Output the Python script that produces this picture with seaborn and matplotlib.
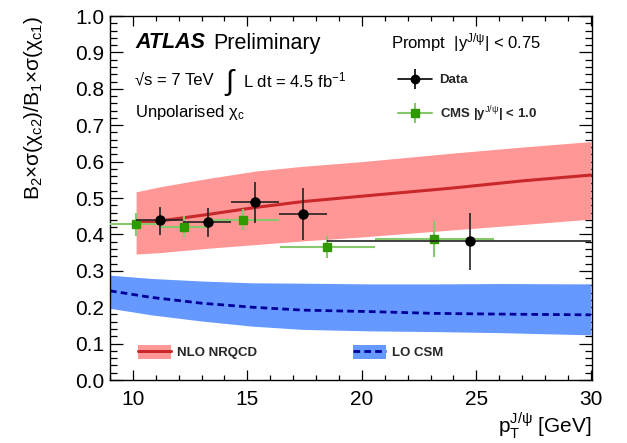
import matplotlib
matplotlib.use("Agg")
import matplotlib.pyplot as plt
import seaborn as sns
import numpy as np
import pandas as pd
from matplotlib.patches import Patch
from matplotlib.lines import Line2D
from matplotlib.ticker import MultipleLocator, FormatStrFormatter

# ---------------- data ----------------
atlas_pt = [11.17, 13.28, 15.35, 17.43, 24.74]
atlas_lo = [10.14, 12.20, 14.29, 16.38, 18.49]
atlas_hi = [12.20, 14.29, 16.38, 18.49, 30.00]
atlas_ratio = [0.439, 0.434, 0.488, 0.456, 0.381]
atlas_err_up = [0.037, 0.039, 0.057, 0.071, 0.077]
atlas_err_dn = [0.041, 0.040, 0.056, 0.071, 0.079]

cms_pt = [10.12, 12.22, 14.83, 18.49, 23.17]
cms_lo = [9.00, 11.15, 13.23, 16.43, 20.56]
cms_hi = [11.15, 13.23, 16.38, 20.56, 25.78]
cms_ratio = [0.428, 0.421, 0.440, 0.365, 0.387]
cms_err_up = [0.032, 0.030, 0.029, 0.031, 0.050]
cms_err_dn = [0.032, 0.029, 0.028, 0.031, 0.048]

nrqcd_pt = [10.14, 11.2, 13.3, 15.35, 17.4, 20.0, 23.9, 27.0, 30.0]
nrqcd_c = [0.432, 0.437, 0.455, 0.474, 0.490, 0.505, 0.527, 0.547, 0.563]
nrqcd_up = [0.517, 0.531, 0.554, 0.574, 0.587, 0.600, 0.623, 0.640, 0.655]
nrqcd_lo = [0.346, 0.350, 0.362, 0.372, 0.382, 0.393, 0.412, 0.427, 0.442]

csm_pt = [9.0, 10.8, 13.0, 15.2, 17.4, 20.3, 23.2, 26.1, 30.0]
csm_c = [0.245, 0.227, 0.211, 0.200, 0.192, 0.188, 0.183, 0.181, 0.179]
csm_up = [0.288, 0.279, 0.272, 0.267, 0.266, 0.264, 0.264, 0.265, 0.264]
csm_lo = [0.197, 0.179, 0.162, 0.148, 0.139, 0.135, 0.133, 0.130, 0.124]

x_ticks = [10, 15, 20, 25, 30]
y_ticks = [0.0, 0.1, 0.2, 0.3, 0.4, 0.5, 0.6, 0.7, 0.8, 0.9, 1.0]

# ---------------- style ----------------
sns.set_theme(style="ticks")
plt.rcParams["font.family"] = ["Liberation Sans", "DejaVu Sans"]
plt.rcParams["mathtext.fontset"] = "custom"
plt.rcParams["mathtext.rm"] = "Liberation Sans"
plt.rcParams["mathtext.it"] = "Liberation Sans:italic"
plt.rcParams["mathtext.bf"] = "Liberation Sans:bold"

W, H = 627, 443
fig = plt.figure(figsize=(W / 100, H / 100), dpi=100)
ax = fig.add_axes([110 / W, 1 - 380 / H, 482 / W, 364 / H])

RED_BAND = "#ff9797"
RED_LINE = "#c8282a"
BLUE_BAND = "#6699ff"
BLUE_LINE = "#000099"
GREEN_M = "#2f9900"
GREEN_E = "#88c86c"

# bands
ax.fill_between(nrqcd_pt, nrqcd_lo, nrqcd_up, color=RED_BAND, lw=0, zorder=1)
ax.fill_between(csm_pt, csm_lo, csm_up, color=BLUE_BAND, lw=0, zorder=1)
sns.lineplot(x=nrqcd_pt, y=nrqcd_c, color=RED_LINE, lw=2.2, ax=ax, zorder=2)
sns.lineplot(x=csm_pt, y=csm_c, color=BLUE_LINE, lw=2.0, ax=ax, zorder=2,
             linestyle=(0, (2.4, 1.5)))

# data
a_pt = np.array(atlas_pt)
c_pt = np.array(cms_pt)
ax.errorbar(cms_pt, cms_ratio,
            xerr=[c_pt - np.array(cms_lo), np.array(cms_hi) - c_pt],
            yerr=[cms_err_dn, cms_err_up], fmt="s", ms=6,
            mfc=GREEN_M, mec=GREEN_M, ecolor=GREEN_E, elinewidth=1.5,
            capsize=0, zorder=4)
ax.errorbar(atlas_pt, atlas_ratio,
            xerr=[a_pt - np.array(atlas_lo), np.array(atlas_hi) - a_pt],
            yerr=[atlas_err_dn, atlas_err_up], fmt="o", ms=6.5,
            color="black", ecolor="#222222", elinewidth=1.2,
            capsize=0, zorder=5)

# axes
ax.set_xlim(9, 30.05)
ax.set_ylim(0, 1)
ax.set_xticks(x_ticks)
ax.set_yticks(y_ticks)
ax.xaxis.set_minor_locator(MultipleLocator(1))
ax.yaxis.set_minor_locator(MultipleLocator(0.02))
ax.yaxis.set_major_formatter(FormatStrFormatter("%.1f"))
for s in ax.spines.values():
    s.set_linewidth(1.0)
    s.set_color("black")
ax.tick_params(which="both", direction="in", top=True, right=True,
               labelsize=15, colors="black", width=0.9)
ax.tick_params(axis="y", which="major", length=9.6, pad=4)
ax.tick_params(axis="y", which="minor", length=4.8)
ax.tick_params(axis="x", which="major", length=7.2, pad=7)
ax.tick_params(axis="x", which="minor", length=3.6)

ax.set_ylabel(r"B$_2$×σ(χ$_{\mathrm{c2}}$)/B$_1$×σ(χ$_{\mathrm{c1}}$)",
              fontsize=15, loc="top", labelpad=22, color="black")
ax.set_xlabel(r"p$_{\mathrm{T}}^{\mathrm{J/ψ}}$ [GeV]", fontsize=15,
              loc="right", labelpad=1, color="black")


def ftext(x, y, s, **kw):
    fig.text(x / W, 1 - y / H, s, va="center", ha="left", color="black", **kw)


ftext(135, 43, "ATLAS", fontsize=15.5, fontweight="bold", fontstyle="italic")
ftext(213, 43, "Preliminary", fontsize=15.5)
ftext(135, 80, "√s = 7 TeV", fontsize=12)
ftext(225, 82, "∫", fontsize=21)
ftext(243, 80, r"L dt = 4.5 fb$^{-1}$", fontsize=12)
ftext(135, 112, r"Unpolarised χ$_{\mathrm{c}}$", fontsize=12)
ftext(391, 43, r"Prompt  |y$^{\mathrm{J/ψ}}$| < 0.75", fontsize=12)

# legend handles (ROOT style: horizontal + vertical bar + marker)
h_data = (Line2D([], [], color="black", lw=1.2),
          Line2D([], [], color="black", marker="|", ms=14, mew=1.2, ls="none"),
          Line2D([], [], color="black", marker="o", ms=6, ls="none"))
h_cms = (Line2D([], [], color=GREEN_E, lw=1.5),
         Line2D([], [], color=GREEN_E, marker="|", ms=14, mew=1.5, ls="none"),
         Line2D([], [], color=GREEN_M, marker="s", ms=6, ls="none"))
leg1 = ax.legend([h_data, h_cms],
                 ["Data", r"CMS |y$^{\mathrm{J/ψ}}$| < 1.0"],
                 loc="upper left", bbox_to_anchor=(398 / W, 1 - 74 / H),
                 bbox_transform=fig.transFigure, frameon=False,
                 prop=dict(weight="bold", size=9.5), handlelength=2.55,
                 handletextpad=0.6, labelspacing=1.35, borderpad=0,
                 borderaxespad=0)
ax.add_artist(leg1)

h_nrqcd = (Patch(facecolor=RED_BAND, lw=0), Line2D([], [], color=RED_LINE, lw=2.2))
h_csm = (Patch(facecolor=BLUE_BAND, lw=0),
         Line2D([], [], color=BLUE_LINE, lw=2.0, linestyle=(0, (2.4, 1.5))))
leg2 = ax.legend([h_nrqcd, h_csm], ["NLO NRQCD", "LO CSM"], ncol=2,
                 loc="upper left", bbox_to_anchor=(138 / W, 1 - 345 / H),
                 bbox_transform=fig.transFigure, frameon=False,
                 prop=dict(weight="bold", size=9.5), handlelength=2.5,
                 handleheight=1.2, handletextpad=0.45, columnspacing=7.3,
                 borderpad=0, borderaxespad=0)

fig.savefig("out.png", dpi=100)
